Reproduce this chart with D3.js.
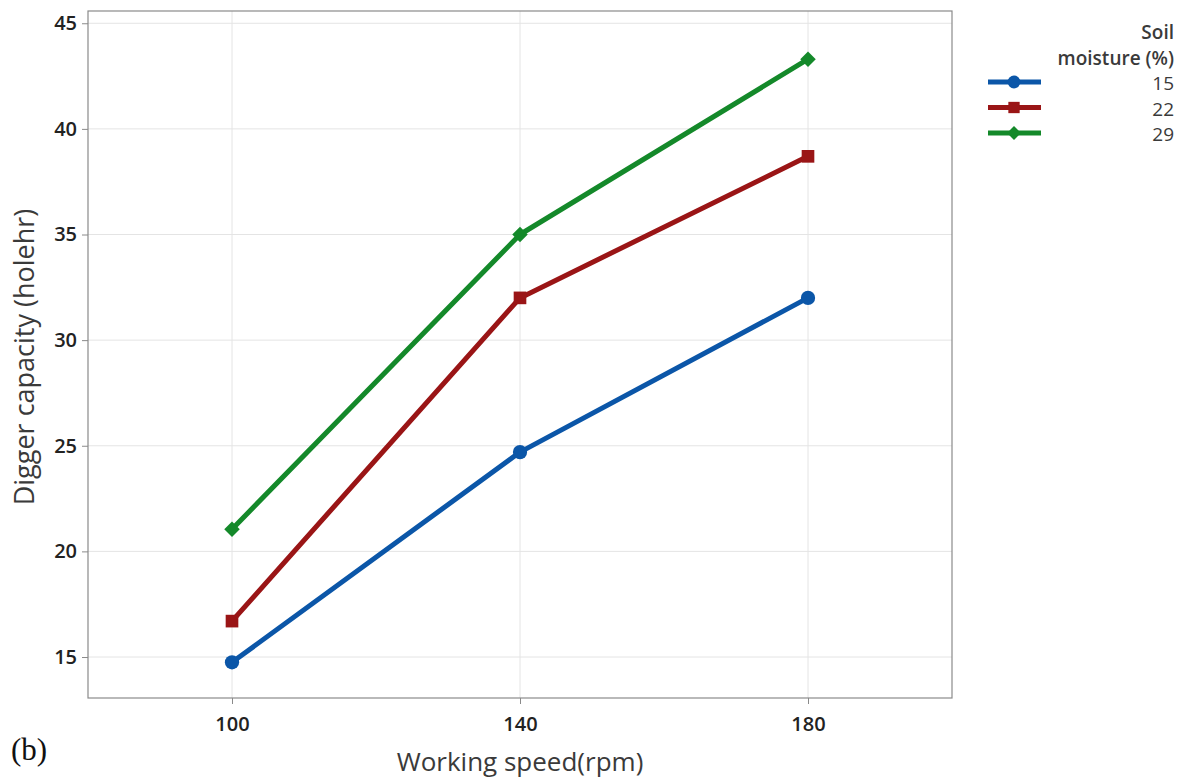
<!DOCTYPE html>
<html><head><meta charset="utf-8">
<script src="https://cdn.jsdelivr.net/npm/d3@7"></script>
<style>body{margin:0;background:#fff;} svg{display:block;}</style>
</head><body>
<svg id="c" width="1186" height="783"></svg>
<script>
const speeds = [100, 140, 180];
const moistureLevels = ["15", "22", "29"];
const capacity15 = [14.75, 24.7, 32.0];
const capacity22 = [16.7, 32.0, 38.7];
const capacity29 = [21.05, 35.0, 43.3];
const yTicks = [15, 20, 25, 30, 35, 40, 45];
const xTicks = [100, 140, 180];

const diamond = {draw(ctx, size) { const r = Math.sqrt(size / 2); ctx.moveTo(0, -r); ctx.lineTo(r, 0); ctx.lineTo(0, r); ctx.lineTo(-r, 0); ctx.closePath(); }};
const series = [
  {name: moistureLevels[0], values: capacity15, color: "#0b56a8", shape: d3.symbolCircle, size: 160},
  {name: moistureLevels[1], values: capacity22, color: "#9a1516", shape: d3.symbolSquare, size: 160},
  {name: moistureLevels[2], values: capacity29, color: "#14892a", shape: diamond, size: 120}
];

const svg = d3.select("#c");
const L = 88, R = 952, T = 11, B = 698;
const x = d3.scaleLinear().domain([80, 200]).range([L, R]);
const y = d3.scaleLinear().domain([13.06, 45.58]).range([B, T]);
const font = "'Open Sans', 'Noto Sans', sans-serif";

// grid
svg.append("g").selectAll("line").data(yTicks).join("line")
  .attr("x1", L).attr("x2", R).attr("y1", d => y(d)).attr("y2", d => y(d))
  .attr("stroke", "#e4e4e4").attr("stroke-width", 1);
svg.append("g").selectAll("line").data(xTicks).join("line")
  .attr("y1", T).attr("y2", B).attr("x1", d => x(d)).attr("x2", d => x(d))
  .attr("stroke", "#e4e4e4").attr("stroke-width", 1);

// frame
svg.append("rect").attr("x", L).attr("y", T).attr("width", R - L).attr("height", B - T)
  .attr("fill", "none").attr("stroke", "#8a8a8a").attr("stroke-width", 1.2);

// axes
const yAxis = svg.append("g").attr("transform", `translate(${L},0)`)
  .call(d3.axisLeft(y).tickValues(yTicks).tickSize(6).tickPadding(5));
const xAxis = svg.append("g").attr("transform", `translate(0,${B})`)
  .call(d3.axisBottom(x).tickValues(xTicks).tickSize(6).tickPadding(13));
[yAxis, xAxis].forEach(a => {
  a.select(".domain").remove();
  a.selectAll(".tick line").attr("stroke", "#8a8a8a");
  a.selectAll(".tick text").attr("font-family", font).attr("font-size", 20)
    .attr("font-weight", 600).attr("fill", "#222");
});

// axis titles
svg.append("text").attr("x", 520).attr("y", 771).attr("text-anchor", "middle")
  .attr("font-family", font).attr("font-size", 26).attr("fill", "#3a3a3a")
  .text("Working speed(rpm)");
svg.append("text").attr("transform", "translate(34,357) rotate(-90)").attr("text-anchor", "middle")
  .attr("font-family", font).attr("font-size", 27).attr("fill", "#3a3a3a")
  .text("Digger capacity (holehr)");

// (b)
svg.append("text").attr("x", 11).attr("y", 760).attr("font-family", "'Liberation Serif', serif")
  .attr("font-size", 31).attr("fill", "#111").text("(b)");

// lines
const line = d3.line().x((d, i) => x(speeds[i])).y(d => y(d));
series.forEach(s => {
  svg.append("path").datum(s.values).attr("d", line).attr("fill", "none")
    .attr("stroke", s.color).attr("stroke-width", 5).attr("stroke-linejoin", "round");
  svg.append("g").selectAll("path").data(s.values).join("path")
    .attr("transform", (d, i) => `translate(${x(speeds[i])},${y(d)})`)
    .attr("d", d3.symbol().type(s.shape).size(s.size)).attr("fill", s.color);
});

// legend
const lg = svg.append("g");
lg.append("text").attr("x", 1174).attr("y", 39).attr("text-anchor", "end")
  .attr("font-family", font).attr("font-size", 19).attr("font-weight", 600).attr("fill", "#3a3a3a").text("Soil");
lg.append("text").attr("x", 1174).attr("y", 65).attr("text-anchor", "end")
  .attr("font-family", font).attr("font-size", 19).attr("font-weight", 600).attr("fill", "#3a3a3a").text("moisture (%)");
series.forEach((s, i) => {
  const yy = 82 + i * 25.5;
  lg.append("line").attr("x1", 988).attr("x2", 1041).attr("y1", yy).attr("y2", yy)
    .attr("stroke", s.color).attr("stroke-width", 5);
  lg.append("path").attr("transform", `translate(1014,${yy})`)
    .attr("d", d3.symbol().type(s.shape).size(s.size * 0.8)).attr("fill", s.color);
  lg.append("text").attr("x", 1174).attr("y", yy + 8).attr("text-anchor", "end")
    .attr("font-family", font).attr("font-size", 19).attr("fill", "#3a3a3a").text(s.name);
});
</script>
</body></html>
